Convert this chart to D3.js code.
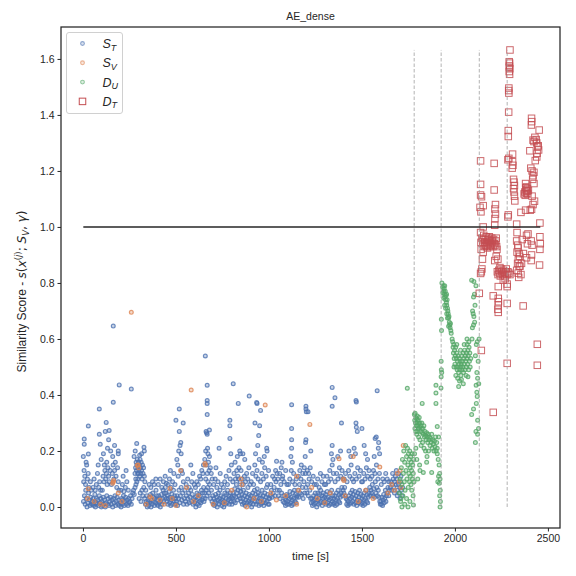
<!DOCTYPE html>
<html>
<head>
<meta charset="utf-8">
<script src="https://cdn.jsdelivr.net/npm/d3@7"></script>
<style>
body{margin:0;background:#fff;}
text{font-family:"Liberation Sans",Arial,sans-serif;fill:#262626;}
</style>
</head>
<body>
<div class="chart"></div>
<script>
// S_T : training samples  [time, score]
const sT = [
[3,0.02],[8,0.04],[12,0.01],[15,0.06],[18,0.03],[22,0.0],[26,0.015],[30,0.05],[35,0.025],[38,0.005],[42,0.035],[46,0.01],[49,0.02],
[4,0.09],[6,0.13],[10,0.11],[14,0.08],[20,0.15],[24,0.1],[28,0.12],[33,0.07],[40,0.09],[45,0.06],[7,0.243],[7,0.224],[29,0.289],[29,0.189],[17,0.16],[2,0.18],
[52,0.01],[55,0.03],[58,0.005],[61,0.02],[64,0.045],[67,0.0],[70,0.015],[73,0.03],[76,0.01],[80,0.025],[84,0.005],[88,0.04],[92,0.015],[96,0.03],[99,0.0],
[54,0.07],[60,0.1],[66,0.06],[72,0.08],[78,0.12],[85,0.07],[90,0.09],[95,0.06],[88,0.35],[88,0.26],[93,0.224],[98,0.17],[82,0.15],
[102,0.02],[105,0.005],[109,0.035],[112,0.01],[116,0.025],[120,0.0],[124,0.015],[128,0.04],[132,0.01],[136,0.03],[140,0.005],[144,0.02],[148,0.035],
[104,0.06],[108,0.11],[113,0.09],[118,0.13],[122,0.1],[126,0.12],[130,0.08],[134,0.14],[138,0.11],[142,0.09],[146,0.13],[115,0.15],[128,0.16],
[125,0.302],[120,0.27],[141,0.273],[138,0.24],[149,0.2],[110,0.19],[132,0.21],
[152,0.01],[156,0.025],[160,0.0],[164,0.03],[168,0.015],[172,0.04],[176,0.005],[180,0.02],[184,0.035],[188,0.01],[192,0.025],[196,0.005],
[153,0.08],[158,0.12],[162,0.15],[166,0.1],[170,0.13],[174,0.16],[178,0.11],[182,0.07],[186,0.14],[190,0.09],[194,0.06],[160,0.18],
[163,0.646],[163,0.374],[195,0.436],[190,0.2],[190,0.19],[170,0.22],
[202,0.015],[205,0.0],[208,0.03],[211,0.01],[214,0.025],[218,0.04],[222,0.005],[226,0.02],[230,0.035],[234,0.01],[238,0.025],[242,0.005],[246,0.03],[249,0.015],
[204,0.06],[212,0.08],[220,0.055],[228,0.07],[236,0.09],[244,0.06],[216,0.11],[232,0.13],
[252,0.02],[256,0.04],[260,0.01],[264,0.03],[268,0.05],[272,0.06],[276,0.045],[280,0.07],[285,0.08],[290,0.09],[295,0.1],[298,0.12],
[280,0.12],[283,0.14],[286,0.16],[288,0.13],[290,0.15],[292,0.17],[294,0.12],[296,0.14],[299,0.16],[284,0.1],
[260,0.421],[289,0.227],[281,0.2],[275,0.18],
[301,0.13],[303,0.15],[305,0.11],[307,0.17],[309,0.14],[311,0.12],[313,0.16],[315,0.13],[318,0.1],[320,0.15],[323,0.12],[326,0.14],[330,0.11],[333,0.09],
[328,0.213],[330,0.2],[315,0.19],[305,0.185],
[302,0.03],[308,0.05],[312,0.02],[317,0.06],[322,0.04],[327,0.07],[332,0.03],[336,0.01],[340,0.02],[343,0.04],[346,0.0],[349,0.015],[338,0.06],
[351,0.02],[354,0.005],[357,0.035],[360,0.015],[363,0.045],[366,0.0],[369,0.025],[372,0.01],[375,0.05],[378,0.02],[381,0.035],[384,0.005],[387,0.03],[390,0.015],[393,0.06],[396,0.04],[399,0.01],
[356,0.08],[365,0.07],[374,0.09],[383,0.08],[392,0.1],
[401,0.025],[404,0.005],[407,0.04],[410,0.015],[413,0.03],[416,0.0],[419,0.02],[422,0.045],[425,0.01],[428,0.03],[431,0.06],[434,0.02],[437,0.05],[440,0.035],[443,0.07],[446,0.05],[449,0.03],
[405,0.08],[415,0.1],[424,0.07],[433,0.09],[442,0.11],[448,0.085],
[451,0.02],[454,0.04],[457,0.01],[460,0.03],[463,0.055],[466,0.015],[469,0.035],[472,0.005],[475,0.025],[478,0.045],[481,0.01],[484,0.03],[487,0.06],[490,0.02],[493,0.04],[496,0.01],[499,0.03],
[458,0.08],[465,0.1],[474,0.07],[482,0.09],[489,0.12],[495,0.08],[470,0.13],
[500,0.31],[518,0.35],[539,0.3],[518,0.27],[526,0.23],[522,0.22],[515,0.2],[528,0.19],[510,0.15],[530,0.13],[535,0.12],[505,0.17],[512,0.11],[540,0.09],
[502,0.02],[506,0.04],[509,0.005],[513,0.03],[516,0.06],[520,0.015],[524,0.04],[528,0.07],[532,0.025],[536,0.05],[541,0.01],[545,0.03],[548,0.06],
[552,0.02],[556,0.04],[560,0.01],[564,0.03],[568,0.05],[572,0.015],[576,0.035],[580,0.06],[584,0.02],[588,0.045],[592,0.01],[596,0.03],
[555,0.08],[563,0.1],[571,0.07],[580,0.15],[585,0.09],[591,0.12],[598,0.08],
[601,0.015],[604,0.035],[607,0.0],[610,0.025],[613,0.05],[616,0.01],[619,0.03],[622,0.045],[625,0.005],[628,0.02],[631,0.04],[634,0.015],[637,0.06],[640,0.025],[643,0.05],[646,0.03],[649,0.07],
[605,0.07],[612,0.09],[620,0.08],[627,0.11],[633,0.1],[639,0.13],[645,0.12],[648,0.15],
[658,0.539],[668,0.435],[668,0.38],[668,0.37],[668,0.33],[680,0.275],[665,0.265],[668,0.26],[662,0.27],[670,0.21],[680,0.18],[672,0.19],[660,0.2],[675,0.16],[664,0.15],[655,0.17],[685,0.14],[690,0.12],[678,0.13],[668,0.12],[660,0.1],[672,0.09],[695,0.1],
[651,0.02],[654,0.05],[657,0.03],[663,0.06],[667,0.04],[671,0.07],[676,0.05],[681,0.08],[686,0.03],[691,0.06],[694,0.02],[698,0.04],
[701,0.01],[704,0.03],[707,0.005],[710,0.02],[713,0.045],[716,0.015],[719,0.035],[722,0.0],[725,0.025],[728,0.05],[731,0.01],[734,0.03],[737,0.06],[740,0.02],[743,0.04],[746,0.005],[749,0.025],
[703,0.08],[711,0.1],[720,0.07],[732,0.21],[726,0.09],[738,0.12],[745,0.08],[715,0.14],
[751,0.015],[754,0.035],[757,0.0],[760,0.02],[763,0.05],[766,0.01],[769,0.03],[772,0.045],[775,0.015],[778,0.06],[781,0.025],[784,0.04],[787,0.01],[790,0.03],[793,0.05],[796,0.02],[799,0.035],
[755,0.07],[762,0.09],[770,0.11],[777,0.08],[785,0.13],[792,0.1],[798,0.15],[790,0.31],[790,0.29],[790,0.245],[795,0.19],
[801,0.01],[804,0.03],[807,0.05],[810,0.02],[813,0.04],[816,0.065],[819,0.015],[822,0.035],[825,0.08],[828,0.05],[831,0.025],[834,0.06],[837,0.1],[840,0.04],[843,0.07],[846,0.03],[849,0.055],
[806,0.09],[812,0.12],[820,0.1],[827,0.13],[833,0.11],[839,0.14],[845,0.09],[808,0.44],[835,0.37],[843,0.2],[847,0.19],[830,0.18],[818,0.16],
[851,0.02],[854,0.045],[857,0.01],[860,0.03],[863,0.06],[866,0.015],[869,0.04],[872,0.005],[875,0.025],[878,0.05],[881,0.015],[884,0.035],[887,0.07],[890,0.02],[893,0.045],[896,0.01],[899,0.03],
[850,0.13],[856,0.1],[862,0.08],[868,0.11],[874,0.09],[880,0.12],[886,0.1],[892,0.14],[898,0.08],[860,0.19],[894,0.396],[870,0.17],
[901,0.015],[904,0.04],[907,0.0],[910,0.025],[913,0.05],[916,0.01],[919,0.03],[922,0.06],[925,0.02],[928,0.045],[931,0.01],[934,0.035],[937,0.065],[940,0.02],[943,0.05],[946,0.005],[949,0.03],
[905,0.09],[912,0.12],[918,0.08],[924,0.15],[930,0.11],[936,0.13],[942,0.1],[948,0.17],[934,0.373],[936,0.37],[925,0.3],[950,0.29],[945,0.255],[940,0.22],[928,0.19],
[951,0.02],[954,0.045],[957,0.01],[960,0.03],[963,0.06],[966,0.015],[969,0.04],[972,0.005],[975,0.025],[978,0.05],[981,0.015],[984,0.035],[987,0.07],[990,0.02],[993,0.045],[996,0.01],[999,0.03],
[955,0.09],[962,0.12],[970,0.1],[977,0.14],[985,0.11],[992,0.08],[998,0.13],[955,0.345],[990,0.2],[988,0.21],[975,0.18],[965,0.16],
[1001,0.01],[1004,0.03],[1008,0.04],[1013,0.06],[1018,0.035],[1023,0.05],[1028,0.07],[1033,0.04],[1038,0.09],[1041,0.163],[1045,0.06],[1048,0.1],
[1010,0.08],[1020,0.11],[1030,0.1],[1036,0.13],[1044,0.12],
[1052,0.04],[1056,0.06],[1060,0.03],[1064,0.08],[1068,0.05],[1072,0.1],[1076,0.02],[1080,0.04],[1083,0.015],[1086,0.03],[1089,0.005],[1092,0.025],[1095,0.045],[1098,0.01],
[1058,0.12],[1066,0.14],[1074,0.11],[1082,0.09],[1090,0.13],[1097,0.08],[1070,0.16],
[1101,0.02],[1104,0.04],[1107,0.01],[1110,0.03],[1113,0.055],[1116,0.015],[1119,0.035],[1122,0.005],[1125,0.025],[1128,0.05],[1131,0.01],[1134,0.03],[1137,0.06],[1140,0.02],[1143,0.045],[1146,0.015],[1149,0.035],
[1105,0.08],[1112,0.1],[1120,0.13],[1127,0.09],[1133,0.12],[1140,0.08],[1147,0.1],[1122,0.365],[1122,0.28],[1122,0.24],[1122,0.21],[1118,0.18],[1126,0.16],
[1152,0.04],[1156,0.06],[1160,0.035],[1164,0.08],[1168,0.05],[1172,0.1],[1176,0.045],[1180,0.07],[1184,0.03],[1188,0.09],[1192,0.05],[1196,0.12],[1199,0.07],
[1158,0.11],[1166,0.13],[1174,0.15],[1182,0.12],[1190,0.14],[1199,0.36],[1199,0.35],[1201,0.34],[1199,0.24],[1197,0.23],[1195,0.18],
[1204,0.05],[1208,0.08],[1212,0.04],[1216,0.1],[1220,0.06],[1224,0.03],[1228,0.015],[1231,0.03],[1234,0.005],[1237,0.02],[1240,0.04],[1243,0.01],[1246,0.025],[1249,0.05],
[1206,0.13],[1214,0.12],[1222,0.14],[1230,0.09],[1238,0.11],[1245,0.08],[1210,0.34],[1225,0.2],
[1251,0.015],[1254,0.035],[1257,0.0],[1260,0.025],[1263,0.05],[1266,0.01],[1269,0.03],[1272,0.045],[1275,0.015],[1278,0.06],[1281,0.02],[1284,0.04],[1287,0.005],[1290,0.03],[1293,0.05],[1296,0.015],[1299,0.035],
[1255,0.08],[1262,0.1],[1270,0.07],[1277,0.12],[1285,0.09],[1292,0.11],[1298,0.08],
[1301,0.02],[1304,0.045],[1307,0.01],[1310,0.03],[1313,0.055],[1316,0.015],[1319,0.035],[1322,0.005],[1325,0.025],[1328,0.05],[1331,0.01],[1334,0.03],[1337,0.06],[1340,0.02],[1343,0.04],[1346,0.01],[1349,0.03],
[1305,0.08],[1312,0.11],[1320,0.09],[1327,0.13],[1333,0.1],[1340,0.15],[1347,0.12],[1340,0.427],[1340,0.36],[1340,0.22],[1336,0.19],[1344,0.17],
[1351,0.015],[1354,0.04],[1357,0.005],[1360,0.025],[1363,0.05],[1366,0.01],[1369,0.03],[1372,0.06],[1375,0.02],[1378,0.045],[1381,0.015],[1384,0.035],[1388,0.05],[1392,0.07],[1396,0.04],[1399,0.06],
[1356,0.09],[1364,0.12],[1371,0.1],[1379,0.14],[1386,0.11],[1393,0.13],[1398,0.1],[1355,0.39],[1390,0.3],[1385,0.2],[1370,0.18],
[1403,0.05],[1407,0.07],[1411,0.04],[1415,0.03],[1418,0.01],[1421,0.025],[1424,0.005],[1427,0.02],[1430,0.04],[1433,0.01],[1436,0.03],[1439,0.05],[1442,0.015],[1445,0.035],[1448,0.06],
[1405,0.1],[1412,0.12],[1420,0.09],[1428,0.13],[1435,0.11],[1442,0.15],[1447,0.1],[1430,0.2],[1440,0.18],
[1451,0.02],[1454,0.045],[1457,0.01],[1460,0.03],[1463,0.055],[1466,0.015],[1469,0.04],[1472,0.005],[1475,0.025],[1478,0.05],[1481,0.015],[1484,0.035],[1487,0.06],[1490,0.02],[1493,0.045],[1496,0.01],[1499,0.03],
[1455,0.09],[1462,0.12],[1470,0.1],[1477,0.14],[1485,0.11],[1492,0.13],[1498,0.09],[1468,0.38],[1470,0.375],[1468,0.3],[1470,0.285],[1475,0.27],[1458,0.21],[1465,0.19],
[1501,0.015],[1504,0.04],[1507,0.005],[1510,0.025],[1513,0.05],[1516,0.01],[1519,0.03],[1522,0.06],[1525,0.02],[1528,0.045],[1531,0.015],[1534,0.035],[1538,0.05],[1542,0.07],[1546,0.04],[1549,0.06],
[1503,0.09],[1510,0.12],[1517,0.1],[1524,0.14],[1531,0.11],[1538,0.13],[1545,0.1],[1500,0.28],[1520,0.19],[1530,0.17],[1512,0.22],
[1552,0.05],[1556,0.08],[1560,0.04],[1564,0.065],[1568,0.035],[1572,0.09],[1576,0.05],[1580,0.07],[1584,0.04],[1588,0.06],[1592,0.035],[1596,0.02],[1599,0.01],
[1554,0.11],[1562,0.13],[1570,0.12],[1578,0.15],[1586,0.1],[1594,0.12],[1582,0.415],[1577,0.25],[1571,0.245],[1590,0.23],[1588,0.21],[1566,0.18],[1595,0.19],
[1602,0.02],[1605,0.01],[1608,0.035],[1611,0.005],[1614,0.025],[1617,0.045],[1620,0.015],[1623,0.03],[1626,0.06],[1629,0.02],[1632,0.04],[1636,0.05],[1640,0.07],[1644,0.04],[1648,0.06],
[1604,0.08],[1612,0.1],[1620,0.09],[1628,0.12],[1636,0.1],[1645,0.09],
[1652,0.07],[1656,0.09],[1660,0.06],[1664,0.08],[1668,0.1],[1672,0.07],[1676,0.09],[1680,0.11],[1684,0.08],[1688,0.1],[1692,0.06],[1696,0.08],[1700,0.05],[1704,0.07],[1708,0.09],[1712,0.06],[1716,0.04],[1719,0.07],
[1665,0.12],[1685,0.13],[1698,0.12],[1710,0.11],[1675,0.05],[1690,0.04],[1705,0.03]
];

// S_V : validation samples
const sV = [
[25,0.03],[29,0.065],[60,0.02],[95,0.01],[120,0.005],[163,0.09],[165,0.095],[160,0.085],[190,0.05],[210,0.02],[260,0.695],[292,0.149],[297,0.15],[300,0.14],
[340,0.01],[360,0.037],[370,0.03],[414,0.025],[436,0.01],[468,0.066],[480,0.03],[500,0.005],[525,0.13],[557,0.07],[582,0.418],[595,0.02],[620,0.04],[656,0.155],[658,0.15],
[700,0.01],[760,0.015],[800,0.06],[850,0.1],[855,0.08],[880,0.0],[920,0.03],[960,0.02],[980,0.364],[1010,0.05],[1040,0.025],[1090,0.04],[1149,0.11],[1149,0.01],[1160,0.06],
[1220,0.295],[1230,0.07],[1260,0.03],[1300,0.015],[1330,0.05],[1377,0.172],[1400,0.1],[1403,0.095],[1410,0.04],[1453,0.18],[1480,0.02],[1520,0.06],[1560,0.03],[1596,0.143],
[1640,0.05],[1660,0.08],[1675,0.06],[1690,0.12],[1700,0.09],[1705,0.13],[1722,0.22],[1710,0.07]
];

// D_U : unlabelled drift samples
const dU = [
[1702,0.05],[1705,0.1],[1708,0.02],[1712,0.14],[1715,0.08],[1718,0.17],[1720,0.04],[1723,0.12],[1725,0.2],[1728,0.09],[1730,0.16],[1732,0.06],[1735,0.22],[1737,0.13],[1740,0.18],[1742,0.1],
[1744,0.424],[1745,0.21],[1747,0.15],[1749,0.07],[1750,0.19],[1752,0.12],[1754,0.17],[1756,0.09],[1757,0.2],[1759,0.14],[1760,0.11],[1762,0.18],[1764,0.08],[1765,0.16],[1767,0.13],[1768,0.06],
[1770,0.19],[1772,0.1],[1773,0.15],[1775,0.04],[1776,0.12],[1777,0.007],[1778,0.17],[1715,0.0],[1730,0.01],[1758,0.02],[1780,0.09],[1710,0.03],[1740,0.03],[1748,0.0],
[1782,0.33],[1784,0.31],[1786,0.335],[1788,0.3],[1790,0.32],[1792,0.29],[1794,0.315],[1796,0.3],[1798,0.325],[1800,0.29],[1802,0.31],[1804,0.28],[1806,0.3],[1808,0.32],[1810,0.285],[1812,0.3],
[1815,0.27],[1818,0.29],[1820,0.28],[1822,0.3],[1825,0.265],[1828,0.28],[1830,0.26],[1833,0.29],[1836,0.25],[1839,0.27],[1842,0.255],[1845,0.24],[1848,0.265],[1851,0.25],[1854,0.23],[1857,0.26],
[1860,0.24],[1863,0.25],[1866,0.22],[1869,0.245],[1872,0.23],[1875,0.26],[1878,0.21],[1881,0.24],[1884,0.225],[1887,0.2],[1890,0.235],[1893,0.215],[1896,0.25],[1899,0.2],[1902,0.23],[1905,0.21],
[1785,0.28],[1790,0.27],[1795,0.26],[1800,0.27],[1805,0.25],[1812,0.24],[1818,0.22],[1826,0.23],[1834,0.21],[1842,0.2],[1850,0.18],[1858,0.2],
[1824,0.37],[1898,0.435],[1898,0.407],[1898,0.37],[1790,0.21],[1795,0.17],[1783,0.19],[1830,0.123],[1875,0.123],[1810,0.15],[1812,0.13],[1800,0.1],[1848,0.16],
[1905,0.287],[1912,0.25],[1905,0.19],[1910,0.17],[1915,0.15],[1918,0.12],[1920,0.1],[1916,0.085],[1921,0.06],[1918,0.04],[1922,0.02],[1920,0.0],[1912,0.11],[1908,0.09],
[1927,0.67],[1928,0.63],[1926,0.52],[1927,0.49],[1929,0.48],[1926,0.465],[1925,0.425],[1930,0.8],[1934,0.785],[1938,0.79],[1940,0.77],[1942,0.78],[1944,0.76],[1946,0.75],[1948,0.77],[1950,0.74],
[1952,0.755],[1954,0.73],[1956,0.72],[1958,0.74],[1960,0.71],[1962,0.7],[1964,0.69],[1966,0.675],[1968,0.68],[1970,0.66],[1972,0.65],[1974,0.64],[1976,0.655],[1978,0.63],[1980,0.62],
[1945,0.72],[1950,0.71],[1940,0.745],[1935,0.765],[1956,0.69],[1960,0.675],[1966,0.645],[1955,0.76],[1945,0.79],
[1985,0.6],[1988,0.59],[1990,0.57],[1992,0.55],[1994,0.58],[1996,0.53],[1998,0.56],[2000,0.51],[2002,0.54],[2004,0.57],[2006,0.5],[2008,0.53],[2010,0.55],[2012,0.49],[2014,0.52],[2016,0.5],
[2018,0.54],[2020,0.48],[2022,0.51],[2024,0.53],[2026,0.49],[2028,0.52],[2030,0.5],[2032,0.47],[2034,0.51],[2036,0.54],[2038,0.49],[2040,0.52],[2042,0.5],[2044,0.55],[2046,0.48],[2048,0.53],
[2050,0.51],[2052,0.56],[2054,0.49],[2056,0.54],[2058,0.52],[2060,0.5],[2062,0.55],[2064,0.53],[2066,0.58],[2068,0.51],[2070,0.56],[2072,0.54],[2074,0.49],[2076,0.57],[2078,0.52],[2080,0.55],
[2082,0.5],[2085,0.53],[1995,0.5],[2005,0.47],[2015,0.46],[2025,0.45],[2035,0.455],[2045,0.44],[2020,0.43],[2060,0.47],[2070,0.465],[2010,0.58],[2030,0.56],[2050,0.58],[2065,0.6],[2075,0.59],
[2090,0.81],[2102,0.805],[2113,0.79],[2105,0.76],[2100,0.75],[2095,0.7],[2098,0.69],[2102,0.68],[2106,0.66],[2100,0.65],[2094,0.64],[2092,0.6],[2120,0.59],[2115,0.58],[2125,0.52],[2110,0.54],
[2118,0.48],[2122,0.46],[2114,0.435],[2118,0.41],[2120,0.395],[2115,0.37],[2100,0.35],[2090,0.33],[2122,0.31],[2127,0.28],[2113,0.27],[2122,0.26],[2110,0.23],[2128,0.44],[2130,0.6],[2108,0.72]
];

// D_T : labelled drift samples
const dT = [
[2296,1.632],[2292,1.59],[2294,1.585],[2293,1.575],[2295,1.565],[2292,1.555],[2294,1.545],[2293,1.57],[2290,1.496],[2289,1.487],[2290,1.478],[2289,1.41],[2287,1.344],[2287,1.323],[2285,1.24],[2290,1.245],
[2310,1.26],[2310,1.233],[2312,1.22],[2308,1.21],
[2412,1.388],[2413,1.376],[2411,1.364],[2453,1.346],[2430,1.32],[2437,1.312],[2425,1.305],[2440,1.3],[2420,1.31],[2445,1.286],[2450,1.275],[2442,1.263],[2448,1.29],[2403,1.272],[2440,1.25],[2432,1.237],
[2408,1.21],[2415,1.2],[2425,1.195],[2420,1.183],[2418,1.17],[2425,1.155],
[2380,1.155],[2385,1.143],[2390,1.137],[2383,1.13],[2376,1.125],[2386,1.12],[2392,1.118],[2378,1.113],[2395,1.13],[2388,1.128],[2381,1.14],[2372,1.118],
[2315,1.17],[2318,1.16],[2320,1.148],[2315,1.137],[2318,1.125],[2320,1.11],[2322,1.093],
[2415,1.11],[2428,1.092],[2420,1.08],[2412,1.063],[2405,1.06],[2380,1.06],[2355,1.052],[2287,1.043],[2285,1.036],[2457,1.014],
[2138,1.236],[2211,1.227],[2138,1.152],[2211,1.132],[2138,1.114],[2143,1.108],[2135,1.07],[2152,1.076],[2140,1.054],[2218,1.08],[2215,1.064],[2218,1.046],[2215,1.03],[2152,1.0],[2214,1.006],
[2145,0.96],[2150,0.94],[2155,0.97],[2158,0.93],[2162,0.955],[2165,0.935],[2168,0.965],[2172,0.945],[2175,0.925],[2178,0.955],[2181,0.94],[2185,0.965],[2188,0.93],[2191,0.95],[2195,0.935],
[2198,0.96],[2202,0.945],[2205,0.93],[2208,0.955],[2212,0.94],[2216,0.935],[2220,0.95],[2160,0.945],[2170,0.93],[2180,0.96],[2190,0.94],[2200,0.95],[2150,0.955],[2140,0.945],[2224,0.93],
[2138,0.98],[2141,0.92],[2152,0.91],[2148,0.885],[2145,0.85],[2142,0.84],[2138,0.834],[2222,0.96],[2226,0.92],[2222,0.895],[2231,0.885],[2214,0.88],
[2228,0.84],[2232,0.83],[2236,0.845],[2240,0.835],[2244,0.825],[2248,0.85],[2252,0.84],[2256,0.83],[2260,0.845],[2264,0.835],[2268,0.825],[2272,0.84],[2276,0.85],[2280,0.83],[2285,0.84],[2290,0.835],[2296,0.83],[2242,0.855],
[2332,1.01],[2334,0.98],[2332,0.95],[2338,0.935],[2340,0.925],[2334,0.91],[2345,0.905],[2348,0.895],[2341,0.885],[2337,0.87],[2345,0.86],[2332,0.845],[2340,0.835],[2355,0.83],[2350,0.86],[2358,0.87],[2343,0.82],
[2362,0.955],[2385,0.97],[2393,0.975],[2390,0.94],[2368,0.905],[2385,0.89],[2410,0.95],[2415,0.935],[2412,0.9],[2410,0.88],[2457,0.965],[2459,0.94],[2457,0.92],[2455,0.864],
[2131,0.763],[2206,0.754],[2233,0.787],[2233,0.745],[2234,0.733],[2233,0.721],[2231,0.706],[2233,0.695],[2281,0.796],[2281,0.787],[2281,0.727],[2260,0.81],[2270,0.815],[2367,0.718],
[2142,0.559],[2443,0.581],[2281,0.513],[2443,0.506],[2206,0.338]
];

// phase boundaries (dashed) and threshold
const boundaries = [1781, 1926, 2131, 2281];
const threshold = 1.0;
const xTicks = [0, 500, 1000, 1500, 2000, 2500];
const yTicks = [0, 0.2, 0.4, 0.6, 0.8, 1.0, 1.2, 1.4, 1.6];

const colors = {sT:"#4c72b0", sV:"#dd8452", dU:"#55a868", dT:"#c44e52"};
const mathFont = '"DejaVu Sans", sans-serif';

let margin = {top:27, right:16, left:61, bottom:48};
let outWidth = 576, outHeight = 576;
let width = outWidth - margin.left - margin.right,
    height = outHeight - margin.top - margin.bottom;

const svg = d3.select('.chart').append('svg')
    .attr("width", outWidth)
    .attr("height", outHeight);

const g = svg.append("g")
    .attr("transform", `translate(${margin.left}, ${margin.top})`);

const xScale = d3.scaleLinear().domain([-118, 2565]).range([0, width]);
const yScale = d3.scaleLinear().domain([-0.075, 1.714]).range([height, 0]);

// scatter layers
const rDot = 1.9;
function dots(data, color){
  g.append("g").selectAll("circle")
    .data(data)
    .enter()
    .append("circle")
    .attr("cx", d => xScale(d[0]))
    .attr("cy", d => yScale(d[1]))
    .attr("r", rDot)
    .attr("fill", color)
    .attr("fill-opacity", 0.3)
    .attr("stroke", color)
    .attr("stroke-width", 1.2)
    .attr("stroke-opacity", 0.8);
}
dots(sT, colors.sT);
dots(sV, colors.sV);
dots(dU, colors.dU);

const sq = 6.5;
g.append("g").selectAll("rect")
    .data(dT)
    .enter()
    .append("rect")
    .attr("x", d => xScale(d[0]) - sq/2)
    .attr("y", d => yScale(d[1]) - sq/2)
    .attr("width", sq)
    .attr("height", sq)
    .attr("fill", "none")
    .attr("stroke", colors.dT)
    .attr("stroke-width", 1)
    .attr("stroke-opacity", 0.85);

// vertical dashed boundaries up to the max score
const ymaxT = d3.max(dT, d => d[1]);
g.selectAll(".bound")
    .data(boundaries)
    .enter()
    .append("line")
    .attr("class", "bound")
    .attr("x1", d => xScale(d)).attr("x2", d => xScale(d))
    .attr("y1", yScale(0)).attr("y2", yScale(ymaxT))
    .attr("stroke", "#a0a0a0")
    .attr("stroke-width", 0.8)
    .attr("stroke-dasharray", "3.5,2");

// threshold line
const allT = sT.concat(sV, dU, dT).map(d => d[0]);
g.append("line")
    .attr("x1", xScale(d3.min(allT))).attr("x2", xScale(d3.max(allT)))
    .attr("y1", yScale(threshold)).attr("y2", yScale(threshold))
    .attr("stroke", "#262626")
    .attr("stroke-width", 1.5);

// axes
const xAxis = d3.axisBottom(xScale).tickValues(xTicks).tickSize(3.5).tickPadding(3).tickFormat(d3.format("d"));
const yAxis = d3.axisLeft(yScale).tickValues(yTicks).tickSize(3.5).tickPadding(3).tickFormat(d3.format(".1f"));

const gx = g.append("g").attr("transform", `translate(0, ${height})`).call(xAxis);
const gy = g.append("g").call(yAxis);
[gx, gy].forEach(a => {
  a.select(".domain").remove();
  a.selectAll("line").attr("stroke", "#262626").attr("stroke-width", 1);
  a.selectAll("text").attr("font-size", 10.5).attr("fill", "#262626")
    .attr("font-family", '"Liberation Sans", Arial, sans-serif');
});

// frame
g.append("rect")
    .attr("width", width).attr("height", height)
    .attr("fill", "none").attr("stroke", "#262626").attr("stroke-width", 1.25);

// title and labels
svg.append("text")
    .attr("x", margin.left + width/2).attr("y", 20)
    .attr("text-anchor", "middle").attr("font-size", 10.5)
    .text("AE_dense");

svg.append("text")
    .attr("x", margin.left + width/2).attr("y", 560)
    .attr("text-anchor", "middle").attr("font-size", 11.5)
    .text("time [s]");

const yl = svg.append("text")
    .attr("transform", `translate(26, ${margin.top + height/2 + 14}) rotate(-90)`)
    .attr("text-anchor", "middle").attr("font-size", 12);
yl.append("tspan").text("Similarity Score - ");
yl.append("tspan").attr("font-family", mathFont).attr("font-style", "italic").text("s");
yl.append("tspan").attr("font-family", mathFont).text("(");
yl.append("tspan").attr("font-family", mathFont).attr("font-style", "italic").text("x");
yl.append("tspan").attr("font-family", mathFont).attr("font-size", 8.5).attr("dy", -5).text("(");
yl.append("tspan").attr("font-family", mathFont).attr("font-size", 8.5).attr("font-style", "italic").text("j");
yl.append("tspan").attr("font-family", mathFont).attr("font-size", 8.5).text(")");
yl.append("tspan").attr("font-family", mathFont).attr("dy", 5).text("; ");
yl.append("tspan").attr("font-family", mathFont).attr("font-style", "italic").text("S");
yl.append("tspan").attr("font-family", mathFont).attr("font-size", 8.5).attr("font-style", "italic").attr("dy", 2.5).text("V");
yl.append("tspan").attr("font-family", mathFont).attr("dy", -2.5).text(", ");
yl.append("tspan").attr("font-family", mathFont).attr("font-style", "italic").text("γ");
yl.append("tspan").attr("font-family", mathFont).text(")");

// legend
const legendItems = [
  {key:"sT", base:"S", sub:"T", shape:"circle"},
  {key:"sV", base:"S", sub:"V", shape:"circle"},
  {key:"dU", base:"D", sub:"U", shape:"circle"},
  {key:"dT", base:"D", sub:"T", shape:"square"}
];
const lg = svg.append("g").attr("transform", "translate(66.5, 32.5)");
lg.append("rect")
    .attr("width", 56).attr("height", 81).attr("rx", 2.5)
    .attr("fill", "#fff").attr("fill-opacity", 0.8)
    .attr("stroke", "#d0d0d0").attr("stroke-width", 1);
legendItems.forEach((it, i) => {
  const cy = 11 + i * 19.3;
  if (it.shape === "circle") {
    lg.append("circle").attr("cx", 16).attr("cy", cy).attr("r", rDot)
      .attr("fill", colors[it.key]).attr("fill-opacity", 0.2)
      .attr("stroke", colors[it.key]).attr("stroke-width", 1.1).attr("stroke-opacity", 0.6);
  } else {
    lg.append("rect").attr("x", 16 - sq/2).attr("y", cy - sq/2).attr("width", sq).attr("height", sq)
      .attr("fill", "none").attr("stroke", colors[it.key]).attr("stroke-width", 1);
  }
  const t = lg.append("text").attr("x", 36).attr("y", cy + 4.5)
      .attr("font-size", 12.5).attr("font-family", mathFont);
  t.append("tspan").attr("font-style", "italic").text(it.base);
  t.append("tspan").attr("font-style", "italic").attr("font-size", 9).attr("dy", 2.5).text(it.sub);
});
</script>
</body>
</html>
